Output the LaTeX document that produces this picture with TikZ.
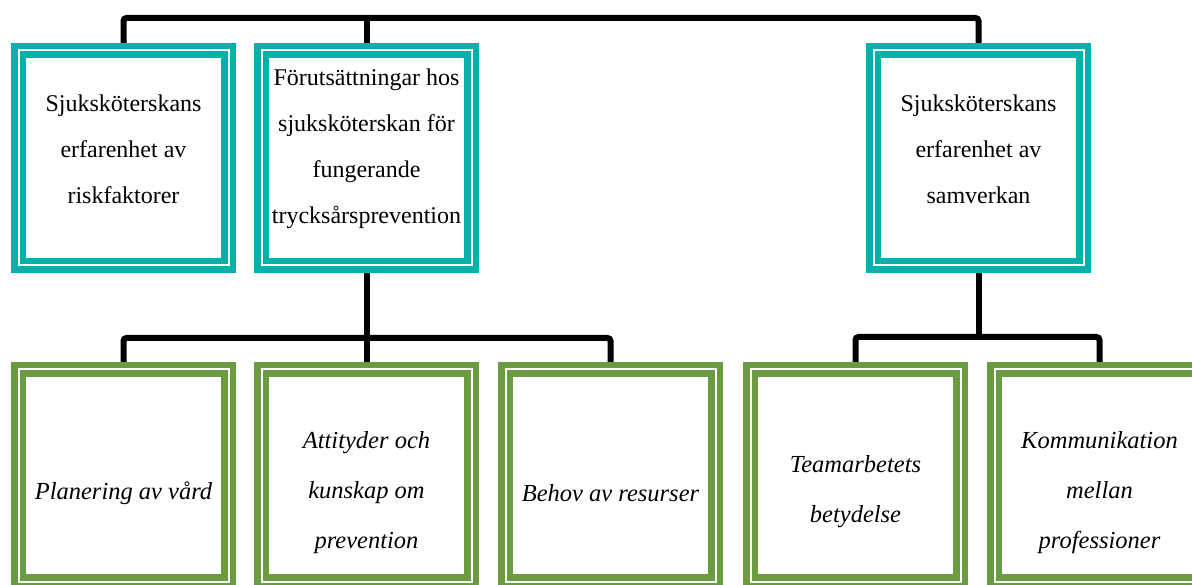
\documentclass[tikz,border=0pt]{standalone}
\usepackage{fontspec}
\setmainfont{Liberation Serif}
\definecolor{tealbox}{RGB}{0,178,170}
\definecolor{greenbox}{RGB}{106,155,62}
\begin{document}
\begin{tikzpicture}[x=1pt,y=-1pt,
  box/.style={draw=#1, double=white, double distance=2pt, line width=6.5pt,
    minimum width=210pt, inner sep=0pt, outer sep=7.5pt},
  topbox/.style={box=tealbox, minimum height=215pt},
  botbox/.style={box=greenbox, minimum height=212pt},
  conn/.style={line width=6pt, black, rounded corners=3pt},
  toptext/.style={font=\fontsize{24}{46}\selectfont, align=center},
  bottext/.style={font=\fontsize{24.5}{50}\selectfont\itshape, align=center}]
\useasboundingbox (0,0) rectangle (1192,585);

% top row boxes
\node[topbox] (t1) at (123.5,158) {};
\node[topbox] (t2) at (366.5,158) {};
\node[topbox] (t3) at (978.5,158) {};
% bottom row boxes
\node[botbox] (b1) at (123.5,475.5) {};
\node[botbox] (b2) at (366.5,475.5) {};
\node[botbox] (b3) at (610.5,475.5) {};
\node[botbox] (b4) at (855.5,475.5) {};
\node[botbox] (b5) at (1099.5,475.5) {};

% texts
\node[toptext] (t1x) at (123.5,149) {Sjuksköterskans\\erfarenhet av\\riskfaktorer};
\node[toptext] (t2x) at (366.5,149) {Förutsättningar hos\\sjuksköterskan för\\fungerande\\trycksårsprevention};
\node[toptext] (t3x) at (978.5,149) {Sjuksköterskans\\erfarenhet av\\samverkan};
\node[bottext] (b1x) at (123.5,493) {Planering av vård};
\node[bottext] (b2x) at (366.5,493) {Attityder och\\kunskap om\\prevention};
\node[bottext] (b3x) at (610.5,493) {Behov av resurser};
\node[bottext] (b4x) at (855.5,492) {Teamarbetets\\betydelse};
\node[bottext] (b5x) at (1099.5,493) {Kommunikation\\mellan\\professioner};

% connectors
\coordinate (topbar) at (500,18);
\draw[conn] (t1.north) |- (topbar) -| (t3.north);
\draw[conn] (t2.north) -- (t2.north |- topbar);
\coordinate (midL) at (366.5,338);
\draw[conn] (t2.south) -- (midL);
\draw[conn] (b1.north) |- (midL) -| (b3.north);
\draw[conn] (b2.north) -- (b2.north |- midL);
\coordinate (midR) at (978.5,337);
\draw[conn] (t3.south) -- (midR);
\draw[conn] (b4.north) |- (midR) -| (b5.north);
\end{tikzpicture}
\end{document}
